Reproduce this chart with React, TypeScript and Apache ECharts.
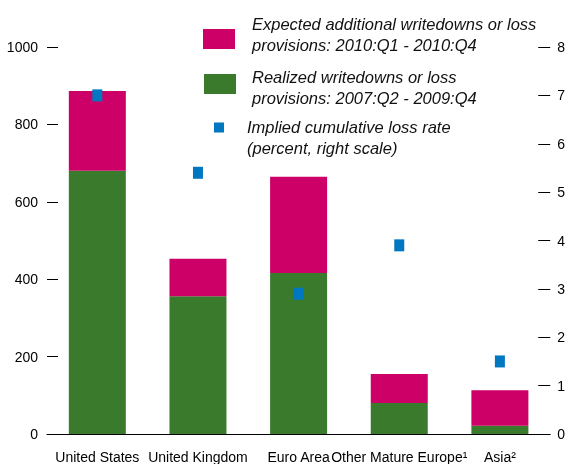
import React, { useEffect, useRef } from "react";
import * as echarts from "echarts";

const categories = [
  "United States",
  "United Kingdom",
  "Euro Area",
  "Other Mature Europe¹",
  "Asia²",
];
const realized = [680, 356, 416, 80, 21];
const expected = [206, 97, 249, 75, 92];
const lossRate = [7.0, 5.4, 2.9, 3.9, 1.5];
const leftTicks = { min: 0, max: 1000, interval: 200 };
const rightTicks = { min: 0, max: 8, interval: 1 };

const seriesNames = [
  "Expected additional writedowns or loss\nprovisions: 2010:Q1 - 2010:Q4",
  "Realized writedowns or loss\nprovisions: 2007:Q2 - 2009:Q4",
  "Implied cumulative loss rate\n(percent, right scale)",
];

const PINK = "#CC0066";
const GREEN = "#3A7A2C";
const BLUE = "#0078C1";
const AXIS_FONT = "'Liberation Sans', 'Noto Sans', sans-serif";
const LEGEND_FONT = "'Liberation Sans', 'Noto Sans', sans-serif";

export default function App() {
  const ref = useRef<HTMLDivElement>(null);
  useEffect(() => {
    if (!ref.current) return;
    const chart = echarts.init(ref.current, undefined, { renderer: "svg" });
    const legendText = (text: string, x: number, y: number) => ({
      type: "text",
      x,
      y,
      silent: true,
      style: {
        text,
        fontFamily: LEGEND_FONT,
        fontStyle: "italic",
        fontSize: 16.5,
        lineHeight: 21,
        fill: "#111",
        align: "left",
        verticalAlign: "top",
      },
    });
    chart.setOption({
      animation: false,
      grid: { left: 47, right: 17, top: 47, bottom: 29, containLabel: false },
      graphic: [
        { type: "rect", silent: true, shape: { x: 203, y: 29, width: 32, height: 20 }, style: { fill: PINK } },
        legendText(seriesNames[0], 252, 13.5),
        { type: "rect", silent: true, shape: { x: 204, y: 74, width: 32, height: 20 }, style: { fill: GREEN } },
        legendText(seriesNames[1], 252, 66),
        { type: "rect", silent: true, shape: { x: 214, y: 122.5, width: 10, height: 10 }, style: { fill: BLUE } },
        legendText(seriesNames[2], 247, 116),
      ],
      xAxis: {
        type: "category",
        data: categories,
        axisLine: { lineStyle: { color: "#000", width: 1 } },
        axisTick: { inside: true, length: 7, lineStyle: { color: "#000" } },
        axisLabel: {
          color: "#000",
          fontFamily: AXIS_FONT,
          fontSize: 14,
          margin: 16,
          interval: 0,
        },
      },
      yAxis: [
        {
          type: "value",
          ...leftTicks,
          axisLine: { show: false },
          axisTick: { show: true, inside: true, length: 11, lineStyle: { color: "#000" } },
          splitLine: { show: false },
          axisLabel: {
            color: "#000",
            fontFamily: AXIS_FONT,
            fontSize: 14,
            margin: 9,
            formatter: (v: number) => String(v),
          },
        },
        {
          type: "value",
          position: "right",
          ...rightTicks,
          axisLine: { show: false },
          axisTick: { show: true, inside: true, length: 12, lineStyle: { color: "#000" } },
          splitLine: { show: false },
          axisLabel: { color: "#000", fontFamily: AXIS_FONT, fontSize: 14, margin: 7 },
        },
      ],
      series: [
        {
          name: seriesNames[1],
          type: "bar",
          stack: "total",
          data: realized,
          barWidth: 57,
          itemStyle: { color: GREEN },
        },
        {
          name: seriesNames[0],
          type: "bar",
          stack: "total",
          data: expected,
          barWidth: 57,
          itemStyle: { color: PINK },
        },
        {
          name: seriesNames[2],
          type: "scatter",
          yAxisIndex: 1,
          data: lossRate,
          symbol: "rect",
          symbolSize: [10, 12],
          itemStyle: { color: BLUE, opacity: 1 },
          z: 5,
        },
      ],
    });
    return () => chart.dispose();
  }, []);
  return (
    <div
      ref={ref}
      style={{ position: "fixed", left: 0, top: 0, width: 568, height: 464 }}
    />
  );
}
